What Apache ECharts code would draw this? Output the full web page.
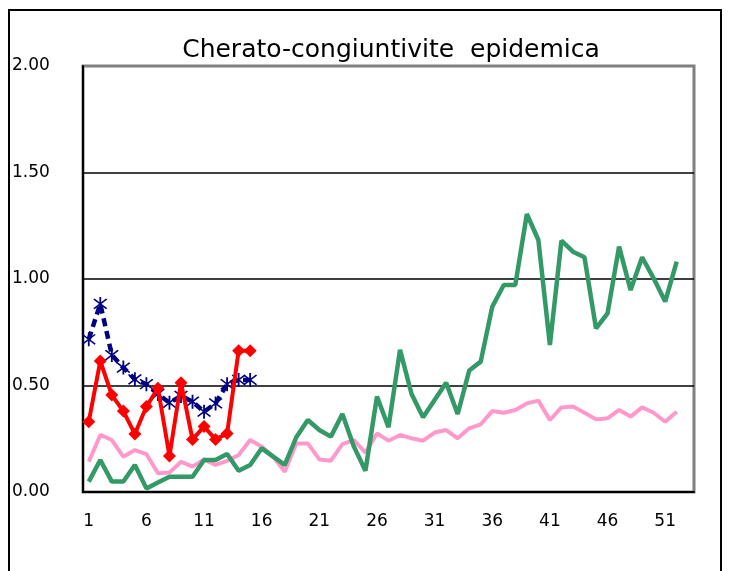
<!DOCTYPE html>
<html>
<head>
<meta charset="utf-8">
<script src="https://cdn.jsdelivr.net/npm/echarts@6/dist/echarts.min.js"></script>
<style>
  html, body { margin: 0; padding: 0; background: #fff; }
  #chart { width: 731px; height: 571px; }
</style>
</head>
<body>
<div id="chart"></div>
<script>
// settimane
var weeks = ['1','2','3','4','5','6','7','8','9','10','11','12','13','14','15','16','17','18','19','20',
  '21','22','23','24','25','26','27','28','29','30','31','32','33','34','35','36','37','38','39','40',
  '41','42','43','44','45','46','47','48','49','50','51','52','53'];

var pinkData = [0.142,0.268,0.244,0.166,0.197,0.178,0.088,0.091,0.142,0.119,
  0.153,0.127,0.146,0.174,0.244,0.213,0.166,0.095,0.228,0.228,
  0.153,0.147,0.225,0.244,0.185,0.275,0.241,0.268,0.252,0.241,
  0.279,0.291,0.252,0.299,0.318,0.380,0.372,0.385,0.416,0.429,
  0.338,0.397,0.401,0.372,0.341,0.346,0.385,0.354,0.397,0.372,0.330,0.377];

var greenData = [0.049,0.150,0.049,0.049,0.127,0.017,0.045,0.072,0.072,0.072,
  0.150,0.150,0.178,0.100,0.127,0.205,0.166,0.127,0.257,0.338,
  0.291,0.260,0.366,0.213,0.100,0.448,0.304,0.667,0.460,0.351,
  0.432,0.513,0.366,0.570,0.612,0.870,0.972,0.972,1.305,1.183,
  0.690,1.180,1.128,1.102,0.768,0.839,1.152,0.948,1.102,1.003,0.894,1.081];

var blueData = [0.717,0.883,0.643,0.584,0.529,0.506,0.460,0.419,0.451,0.424,0.377,0.416,0.506,0.526,0.526];

var redData = [0.330,0.615,0.455,0.380,0.272,0.401,0.487,0.169,0.513,0.247,0.307,0.247,0.275,0.663,0.663];

// asterisco (marcatore)
var asterisk = 'path://M-1,-10L1,-10L1,10L-1,10Z' +
  'M-6.3,-7.7L7.7,6.3L6.3,7.7L-7.7,-6.3Z' +
  'M6.3,-7.7L7.7,-6.3L-6.3,7.7L-7.7,6.3Z';

var chart = echarts.init(document.getElementById('chart'));
var option = {
  animation: false,
  graphic: [
    {
      type: 'rect',
      shape: { x: 9, y: 10, width: 712, height: 620 },
      style: { fill: 'none', stroke: '#000', lineWidth: 2 },
      silent: true
    },
    {
      type: 'text',
      x: 391,
      y: 38,
      style: {
        text: 'Cherato-congiuntivite  epidemica',
        textAlign: 'center',
        font: '25px "DejaVu Sans"',
        fill: '#000'
      }
    }
  ],
  grid: {
    left: 83,
    right: 37,
    top: 66,
    bottom: 79,
    show: true,
    borderColor: '#808080',
    borderWidth: 3,
    backgroundColor: 'transparent'
  },
  xAxis: {
    type: 'category',
    data: weeks,
    boundaryGap: true,
    axisLine: { lineStyle: { color: '#000', width: 2 } },
    axisTick: { interval: 4, inside: true, length: 6, lineStyle: { color: '#000', width: 1.5 } },
    axisLabel: {
      interval: 4,
      margin: 21,
      color: '#000',
      fontSize: 17,
      fontFamily: 'DejaVu Sans'
    },
    splitLine: { show: false }
  },
  yAxis: {
    type: 'value',
    min: 0,
    max: 2,
    interval: 0.5,
    axisLine: { show: true, lineStyle: { color: '#000', width: 2 } },
    axisTick: { show: false },
    axisLabel: {
      align: 'left',
      margin: 71,
      color: '#000',
      fontSize: 17,
      fontFamily: 'DejaVu Sans',
      formatter: function (v) { return v.toFixed(2); }
    },
    splitLine: {
      show: true,
      showMaxLine: false,
      lineStyle: { color: '#000', width: 1.5 }
    }
  },
  series: [
    {
      name: 'Serie rosa',
      type: 'line',
      data: pinkData,
      symbol: 'none',
      lineStyle: { color: '#FF99CC', width: 4 },
      z: 2
    },
    {
      name: 'Serie verde',
      type: 'line',
      data: greenData,
      symbol: 'none',
      lineStyle: { color: '#339966', width: 4.5 },
      z: 3
    },
    {
      name: 'Serie blu',
      type: 'line',
      data: blueData,
      symbol: asterisk,
      symbolSize: 14,
      showAllSymbol: true,
      itemStyle: { color: '#000080' },
      lineStyle: { color: '#000080', width: 4.5, type: [8, 5] },
      z: 4
    },
    {
      name: 'Serie rossa',
      type: 'line',
      data: redData,
      symbol: 'diamond',
      symbolSize: 13,
      showAllSymbol: true,
      itemStyle: { color: '#FF0000' },
      lineStyle: { color: '#FF0000', width: 4 },
      z: 5
    }
  ]
};
chart.setOption(option);
</script>
</body>
</html>
